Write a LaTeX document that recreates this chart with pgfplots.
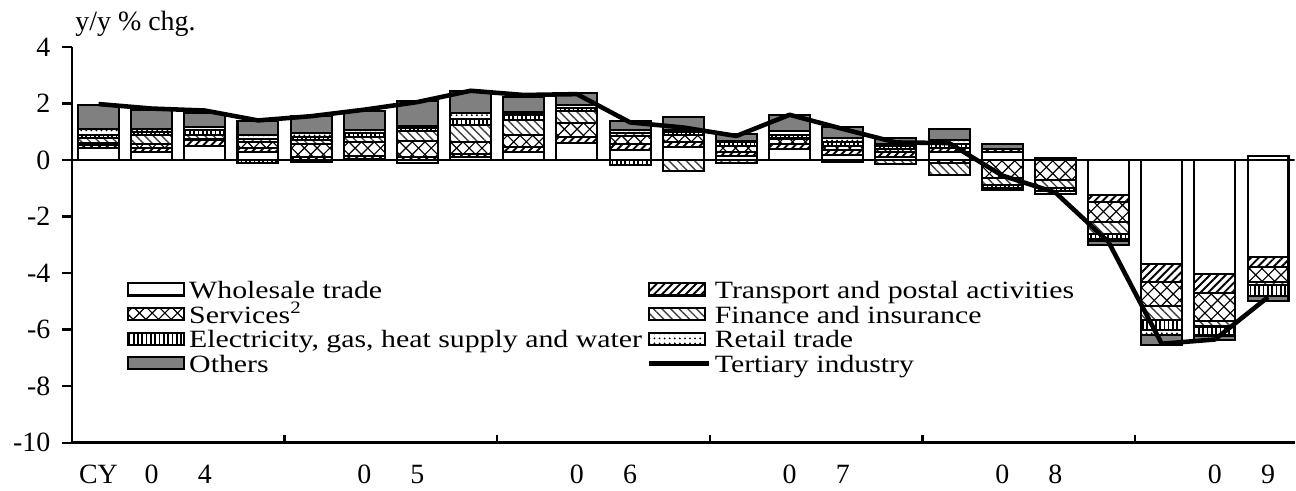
\documentclass[border=0pt]{standalone}
\usepackage{fontspec}
\setmainfont{Liberation Serif}
\newfontfamily\legfont[FakeStretch=1.2]{Liberation Serif}
\usepackage{pgfplots}
\pgfplotsset{compat=1.18}
\usepackage{pgfplotstable}
\usetikzlibrary{patterns,patterns.meta}

\definecolor{othgray}{RGB}{128,128,128}
\newcommand{\lbl}{\fontsize{11}{13}\selectfont}
\newcommand{\leg}{\legfont\fontsize{9.8}{11}\selectfont}

\pgfdeclarepatternformonly{diagcross}{\pgfqpoint{-1pt}{-1pt}}{\pgfqpoint{6pt}{6pt}}{\pgfqpoint{5pt}{5pt}}{%
  \pgfsetlinewidth{0.45pt}%
  \pgfpathmoveto{\pgfqpoint{0pt}{0pt}}\pgfpathlineto{\pgfqpoint{5pt}{5pt}}%
  \pgfpathmoveto{\pgfqpoint{0pt}{5pt}}\pgfpathlineto{\pgfqpoint{5pt}{0pt}}%
  \pgfusepath{stroke}}

\pgfplotsset{
  common/.style={scale only axis, width=482pt, height=156pt,
    xmin=0.5, xmax=23.5, ymin=-10, ymax=4},
  wsl/.style={fill=white, draw=black, line width=0.8pt},
  trn/.style={pattern={Lines[angle=45,distance=2.2pt,line width=0.75pt]}, draw=black, line width=0.8pt},
  svc/.style={pattern=diagcross, draw=black, line width=0.8pt},
  fin/.style={pattern={Lines[angle=-45,distance=2.4pt,line width=0.55pt]}, pattern color=black!75, draw=black, line width=0.8pt},
  ele/.style={pattern={Lines[angle=90,distance=1.7pt,line width=0.65pt]}, draw=black, line width=0.8pt},
  ret/.style={pattern={Dots[distance=2pt,radius=0.4pt]}, draw=black, line width=0.8pt},
  oth/.style={fill=othgray, draw=black, line width=0.8pt},
  barleg/.style={legend image code/.code={\draw[##1] (0pt,-0.9pt) rectangle (22pt,3.9pt);}},
  lineleg/.style={legend image code/.code={\draw[##1] (0pt,1.5pt) -- (23.5pt,1.5pt);}},
}

\pgfplotstableread{
x W T S F E R O
1 0.42 0.12 0.05 0.20 0.10 0.22 0.85
2 0.29 0.15 0.12 0.32 0.10 0.12 0.67
3 0.49 0.22 0.04 0.12 0.20 0.10 0.48
4 0.30 0.14 0.18 0.12 0 0.15 0.50
5 0 0.12 0.45 0.15 0.10 0.12 0.60
6 0.05 0.10 0.47 0.20 0.12 0.12 0.68
7 0 0.12 0.56 0.35 0.10 0.07 0.88
8 0.10 0.10 0.45 0.60 0.20 0.20 0.80
9 0.30 0.15 0.45 0.50 0.18 0.10 0.55
10 0.61 0.19 0.50 0.45 0.10 0.09 0.42
11 0.35 0.20 0.30 0.10 0 0.10 0.32
12 0.47 0.15 0.28 0 0.10 0.06 0.47
13 0.15 0.15 0.20 0 0.12 0.05 0.25
14 0.38 0.20 0.15 0.05 0.10 0.13 0.58
15 0.17 0.18 0.15 0 0.14 0.14 0.40
16 0.12 0.15 0.12 0 0.10 0.08 0.20
17 0.27 0.15 0 0 0.15 0.15 0.36
18 0.30 0.10 0 0 0 0 0.15
19 0 0 0 0 0 0 0.06
20 0 0 0 0 0 0 0
21 0 0 0 0 0 0 0
22 0 0 0 0 0 0 0
23 0 0 0 0 0 0.14 0
}\tabpos

\pgfplotstableread{
x W T S F E R O
1 0 0 0 0 0 0 0
2 0 0 0 0 0 0 0
3 0 0 0 0 0 0 0
4 0 0 0 0 -0.12 0 0
5 -0.08 0 0 0 0 0 0
6 0 0 0 0 0 0 0
7 -0.10 0 0 0 0 0 0
8 0 0 0 0 0 0 0
9 0 0 0 0 0 0 0
10 0 0 0 0 0 0 0
11 0 0 0 0 -0.17 0 0
12 0 0 0 -0.40 0 0 0
13 0 0 0 -0.10 0 0 0
14 0 0 0 0 0 0 0
15 0 0 0 -0.08 0 0 0
16 0 0 0 -0.15 0 0 0
17 0 0 -0.12 -0.40 0 0 0
18 0 0 -0.62 -0.25 -0.12 -0.08 0
19 0 0 -0.72 -0.28 -0.10 -0.10 0
20 -1.25 -0.25 -0.68 -0.45 -0.15 -0.10 -0.12
21 -3.67 -0.66 -0.82 -0.50 -0.38 -0.15 -0.36
22 -4.03 -0.68 -1.00 -0.18 -0.29 -0.06 -0.12
23 -3.44 -0.35 -0.51 -0.12 -0.40 0 -0.17
}\tabneg

\pgfplotstableread{
x Y
1 1.98
2 1.82
3 1.75
4 1.40
5 1.55
6 1.78
7 2.05
8 2.45
9 2.30
10 2.33
11 1.33
12 1.15
13 0.85
14 1.60
15 1.10
16 0.62
17 0.60
18 -0.55
19 -1.15
20 -2.90
21 -6.50
22 -6.35
23 -4.85
}\tabline

\begin{document}
\begin{tikzpicture}
% positive parts
\begin{axis}[name=main, common, ybar stacked, bar width=0.77,
  axis x line*=bottom, axis y line*=left,
  axis line style={-, line width=1.1pt},
  ytick={-10,-8,-6,-4,-2,0,2,4},
  yticklabels={-10,-8,-6,-4,-2,0,2,4},
  tick align=outside, major tick length=4pt,
  tick style={black, line width=0.9pt},
  xtick=\empty,
  yticklabel style={font=\lbl, inner sep=0pt, xshift=-4.3pt},
]
\addplot[wsl] table[x=x,y=W]{\tabpos};
\addplot[trn] table[x=x,y=T]{\tabpos};
\addplot[svc] table[x=x,y=S]{\tabpos};
\addplot[fin] table[x=x,y=F]{\tabpos};
\addplot[ele] table[x=x,y=E]{\tabpos};
\addplot[ret] table[x=x,y=R]{\tabpos};
\addplot[oth] table[x=x,y=O]{\tabpos};
\end{axis}
% negative parts
\begin{axis}[common, ybar stacked, bar width=0.77,
  axis x line*=bottom, axis y line=none,
  axis line style={-, line width=1.1pt},
  ytick=\empty,
  xtick={1,...,23},
  xticklabels={CY,0,4,{},{},0,5,{},{},0,6,{},{},0,7,{},{},0,8,{},{},0,9},
  major tick length=0pt,
  xticklabel style={font=\lbl, inner sep=0pt, yshift=-8.7pt},
]
\addplot[wsl] table[x=x,y=W]{\tabneg};
\addplot[trn] table[x=x,y=T]{\tabneg};
\addplot[svc] table[x=x,y=S]{\tabneg};
\addplot[fin] table[x=x,y=F]{\tabneg};
\addplot[ele] table[x=x,y=E]{\tabneg};
\addplot[ret] table[x=x,y=R]{\tabneg};
\addplot[oth] table[x=x,y=O]{\tabneg};
\end{axis}
% line, zero line, year ticks, legend
\begin{axis}[common,
  axis x line*=bottom, axis y line=none,
  axis line style={-, line width=1.1pt},
  ytick=\empty,
  xtick={4.5,8.5,12.5,16.5,20.5}, xticklabels={},
  xticklabel style={inner sep=0pt},
  tick align=inside, major tick length=3pt,
  tick style={black, line width=0.9pt},
  legend columns=2, legend cell align=left,
  legend style={at={(0.045,0.41)}, anchor=north west, draw=none, fill=none,
    inner sep=0pt, font=\leg, row sep=0pt,
    nodes={inner sep=0.35pt, text height=6.6pt, text depth=2.4pt},
    /tikz/every odd column/.append style={column sep=1.2pt},
    /tikz/every even column/.append style={column sep=1.5pt}},
]
\addplot[black, line width=0.6pt, forget plot] coordinates {(0.5,0) (23.5,0)};
\addlegendimage{barleg, wsl}
\addlegendimage{barleg, trn}
\addlegendimage{barleg, svc}
\addlegendimage{barleg, fin}
\addlegendimage{barleg, ele}
\addlegendimage{barleg, ret}
\addlegendimage{barleg, oth}
\addplot[lineleg, black, line width=1.8pt, line join=round, mark=none] table[x=x,y=Y]{\tabline};
\legend{Wholesale trade, Transport and postal activities, Services\textsuperscript{2}, Finance and insurance, {Electricity, gas, heat supply and water}, Retail trade, Others, Tertiary industry}
\end{axis}
\node[anchor=base west, inner sep=0pt, font=\lbl] at ([xshift=1.2pt,yshift=6.3pt]main.north west) {y/y \% chg.};
\path ([xshift=-28.35pt,yshift=18.5pt]main.north west) rectangle ([yshift=-18.9pt]main.south east);
\end{tikzpicture}
\end{document}
